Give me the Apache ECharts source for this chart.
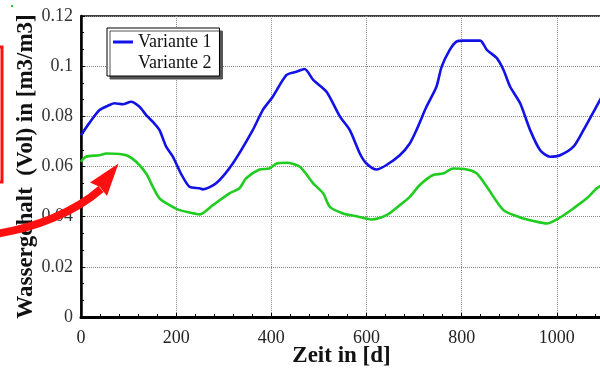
<!DOCTYPE html>
<html>
<head>
<meta charset="utf-8">
<script src="https://cdn.jsdelivr.net/npm/echarts@6/dist/echarts.min.js"></script>
<style>
  html, body { margin: 0; padding: 0; background: #fff; }
  #chart { width: 600px; height: 372px; }
</style>
</head>
<body>
<div id="chart"></div>
<script>
// Zeitachse (Tage) und Wassergehalt
const tage1 = [0, 17, 39, 60, 70, 88, 105, 123, 137, 151, 165, 179, 193, 210, 228, 249, 256, 284, 319, 361,
  382, 403, 432, 453, 470, 488, 516, 544, 565, 586, 600, 621, 642, 670, 691, 705, 726, 747, 758, 775,
  789, 803, 839, 853, 874, 888, 902, 923, 944, 965, 986, 1007, 1035, 1056, 1095];
const variante1 = [0.0725, 0.0772, 0.0825, 0.0845, 0.0852, 0.0848, 0.0858, 0.0838, 0.0805, 0.0778, 0.0745, 0.0679, 0.0639, 0.0572, 0.0519, 0.0513, 0.0509, 0.0533, 0.0612, 0.0745,
  0.0825, 0.0878, 0.0965, 0.0978, 0.0989, 0.0945, 0.0898, 0.0800, 0.0745, 0.0652, 0.0612, 0.0588, 0.0606, 0.0645, 0.0692, 0.0745, 0.0838, 0.0918, 0.0998, 0.1065,
  0.1098, 0.1102, 0.1102, 0.1065, 0.1032, 0.0985, 0.0918, 0.0852, 0.0745, 0.0665, 0.0639, 0.0645, 0.0679, 0.0745, 0.0880];

const tage2 = [0, 10, 39, 53, 81, 98, 116, 137, 151, 165, 186, 207, 228, 249, 277, 312, 333, 347, 375, 396,
  411, 432, 460, 488, 509, 523, 551, 579, 611, 642, 670, 691, 712, 740, 761, 782, 811, 832, 853, 888,
  923, 951, 979, 1007, 1035, 1063, 1084, 1095];
const variante2 = [0.0619, 0.0639, 0.0645, 0.0652, 0.0650, 0.0643, 0.0619, 0.0572, 0.0519, 0.0473, 0.0446, 0.0426, 0.0417, 0.0409, 0.0446, 0.0493, 0.0513, 0.0553, 0.0588, 0.0592,
  0.0612, 0.0615, 0.0599, 0.0533, 0.0493, 0.0439, 0.0413, 0.0402, 0.0389, 0.0406, 0.0446, 0.0479, 0.0526, 0.0566, 0.0572, 0.0592, 0.0588, 0.0572, 0.0519, 0.0426,
  0.0397, 0.0383, 0.0373, 0.0397, 0.0433, 0.0473, 0.0513, 0.0525];

const serienNamen = ['Variante 1', 'Variante 2'];
const xTicks = [0, 200, 400, 600, 800, 1000];

const FONT = 'Liberation Serif, Times New Roman, serif';

const chart = echarts.init(document.getElementById('chart'));

const option = {
  backgroundColor: '#fff',
  animation: false,
  grid: {
    left: 81, top: 16, right: -2, bottom: 55,
    outerBoundsMode: 'none',
    show: true, borderColor: '#000', borderWidth: 1.5, backgroundColor: 'transparent'
  },
  legend: {
    orient: 'vertical',
    left: 107, top: 28,
    padding: [5, 8, 4, 6],
    itemGap: 3,
    itemWidth: 20,
    itemHeight: 3,
    backgroundColor: '#fff',
    borderColor: '#000',
    borderWidth: 1,
    borderRadius: 0,
    shadowColor: '#555',
    shadowBlur: 0,
    shadowOffsetX: 3,
    shadowOffsetY: 3,
    textStyle: { fontFamily: FONT, fontSize: 18, color: '#111', lineHeight: 18 },
    data: [
      { name: serienNamen[0], icon: 'rect' },
      { name: serienNamen[1], icon: 'rect', itemStyle: { opacity: 0 } }
    ]
  },
  xAxis: {
    type: 'value',
    min: 0, max: 1095, interval: 200,
    name: 'Zeit in [d]',
    nameLocation: 'middle',
    nameGap: 28,
    nameMoveOverlap: false,
    nameTextStyle: { fontFamily: FONT, fontSize: 23, fontWeight: 'bold', color: '#111' },
    axisLine: { show: true, lineStyle: { color: '#000', width: 3 } },
    axisTick: { show: true, inside: true, length: 4, lineStyle: { color: '#000' } },
    minorTick: { show: true, splitNumber: 5, length: 3, lineStyle: { color: '#000' } },
    axisLabel: {
      fontFamily: FONT, fontSize: 18, color: '#222', margin: 12,
      formatter: v => (xTicks.indexOf(v) >= 0 ? String(v) : '')
    },
    splitLine: { show: true, lineStyle: { color: '#8a8a8a', type: 'dotted', width: 1 } }
  },
  yAxis: {
    type: 'value',
    min: 0, max: 0.12, interval: 0.02,
    name: 'Wassergehalt  (Vol) in [m3/m3]',
    nameLocation: 'middle',
    nameGap: 43,
    nameMoveOverlap: false,
    nameTextStyle: { fontFamily: FONT, fontSize: 23, fontWeight: 'bold', color: '#111' },
    axisLine: { show: true, lineStyle: { color: '#000', width: 2.5 } },
    axisTick: { show: true, inside: true, length: 4, lineStyle: { color: '#000' } },
    minorTick: { show: true, splitNumber: 3, length: 3, lineStyle: { color: '#000' } },
    axisLabel: {
      fontFamily: FONT, fontSize: 18, color: '#333', margin: 8,
      formatter: v => String(+v.toFixed(2))
    },
    splitLine: { show: true, lineStyle: { color: '#8a8a8a', type: 'dotted', width: 1 } }
  },
  series: [
    {
      name: serienNamen[0],
      type: 'line',
      symbol: 'none',
      smooth: 0.25,
      data: tage1.map((t, i) => [t, variante1[i]]),
      lineStyle: { color: '#1212e6', width: 2.6 },
      itemStyle: { color: '#1212e6' },
      z: 3
    },
    {
      name: serienNamen[1],
      type: 'line',
      symbol: 'none',
      smooth: 0.25,
      data: tage2.map((t, i) => [t, variante2[i]]),
      lineStyle: { color: '#1fcc1f', width: 2.6 },
      itemStyle: { color: '#1fcc1f' },
      z: 3
    }
  ],
  // rote Markierungen aus dem Originalbild
  graphic: [
    { type: 'rect', z: 100, shape: { x: -30, y: 47, width: 32, height: 135 }, style: { fill: 'none', stroke: '#ff1010', lineWidth: 3 } },
    { type: 'bezierCurve', z: 100, shape: { x1: -5, y1: 234, x2: 101, y2: 189, cpx1: 35, cpy1: 228, cpx2: 75, cpy2: 212 }, style: { fill: 'none', stroke: '#ff1010', lineWidth: 8 } },
    { type: 'polygon', z: 100, shape: { points: [[118.5, 163.5], [90, 182.5], [100, 187], [107, 196]] }, style: { fill: '#ff1010' } },
    { type: 'rect', z: 100, shape: { x: 11, y: 5, width: 2, height: 2 }, style: { fill: '#22cc22' } }
  ]
};

chart.setOption(option);
</script>
</body>
</html>
